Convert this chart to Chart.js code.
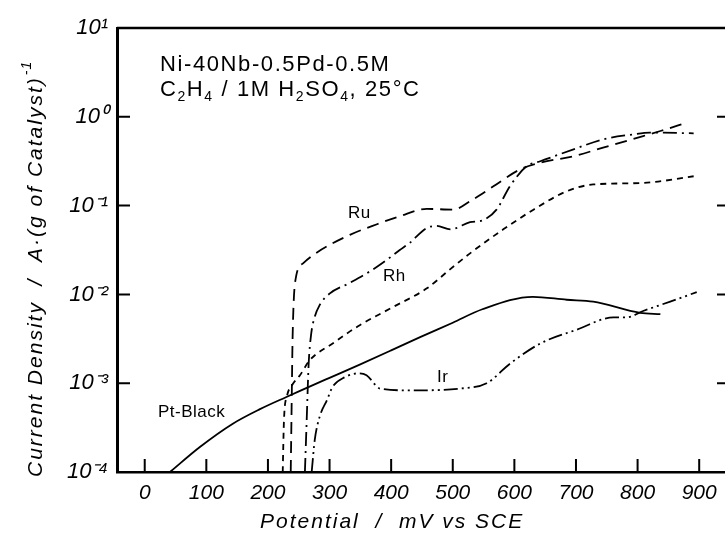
<!DOCTYPE html>
<html>
<head>
<meta charset="utf-8">
<script src="https://cdn.jsdelivr.net/npm/chart.js@4"></script>
<style>
  html, body { margin: 0; padding: 0; background: #fff; overflow: hidden; }
  #wrap { width: 740px; height: 533px; }
</style>
</head>
<body>
<div id="wrap"><canvas id="polar-graph" width="740" height="533"></canvas></div>
<script>
// potential (mV vs SCE) and current density (A/g)
const ptBlackX = [41, 89, 143, 187, 230, 252, 300, 349, 400, 447, 500, 548, 630, 685, 728, 804, 837];
const ptBlackY = [1.0e-4, 1.9e-4, 3.5e-4, 5.1e-4, 7.0e-4, 8.2e-4, 1.15e-3, 1.62e-3, 2.34e-3, 3.3e-3, 4.8e-3, 6.8e-3, 9.4e-3, 8.7e-3, 8.3e-3, 6.2e-3, 6.0e-3];

const ruX = [237, 238, 239, 240, 244, 257, 279, 333, 377, 414, 458, 501, 528, 566, 609, 642, 696, 744, 809, 837, 880];
const ruY = [1.0e-4, 3.2e-4, 1.07e-3, 3.2e-3, 1.35e-2, 2.24e-2, 2.95e-2, 4.68e-2, 6.17e-2, 7.59e-2, 9.18e-2, 9.02e-2, 0.112, 0.165, 0.255, 0.304, 0.36, 0.449, 0.607, 0.692, 0.859];

const rhX = [260, 263, 266, 270, 276, 284, 300, 333, 370, 393, 414, 430, 458, 474, 496, 528, 550, 571, 593, 620, 642, 696, 744, 793, 820, 891];
const rhY = [1.0e-4, 4.0e-4, 1.6e-3, 3.5e-3, 5.6e-3, 7.6e-3, 1.02e-2, 1.35e-2, 1.9e-2, 2.45e-2, 3.16e-2, 3.8e-2, 5.6e-2, 5.9e-2, 5.4e-2, 6.5e-2, 6.9e-2, 9.0e-2, 0.166, 0.278, 0.316, 0.43, 0.557, 0.634, 0.664, 0.652];

// short-dash curve, no label in the figure
const shortDashX = [224, 226, 231, 239, 252, 268, 305, 349, 403, 458, 495, 528, 582, 631, 685, 728, 809, 891];
const shortDashY = [1.0e-4, 3.8e-4, 7.2e-4, 9.5e-4, 1.23e-3, 1.82e-3, 2.8e-3, 4.5e-3, 7.2e-3, 1.17e-2, 1.9e-2, 2.9e-2, 5.4e-2, 9.0e-2, 0.145, 0.173, 0.18, 0.214];

const irX = [271, 276, 284, 296, 305, 325, 346, 360, 382, 430, 512, 555, 593, 642, 701, 761, 782, 809, 853, 896];
const irY = [1.0e-4, 2.3e-4, 4.2e-4, 6.5e-4, 9.1e-4, 1.17e-3, 1.29e-3, 1.23e-3, 8.7e-4, 8.3e-4, 8.7e-4, 1.0e-3, 1.66e-3, 2.8e-3, 4.0e-3, 5.5e-3, 5.5e-3, 6.5e-3, 8.3e-3, 1.06e-2];

const xTickValues = [0, 100, 200, 300, 400, 500, 600, 700, 800, 900];
const xTickLabels = ['0', '100', '200', '300', '400', '500', '600', '700', '800', '900'];
const yTickValues = [1e-4, 1e-3, 1e-2, 1e-1, 1e0, 1e1];
const yTickLabels = ['10⁻⁴', '10⁻³', '10⁻²', '10⁻¹', '10⁰', '10¹'];

function pts(xs, ys) {
  return xs.map((x, i) => ({ x: x, y: ys[i] }));
}

function line(label, xs, ys, dash) {
  return {
    label: label,
    data: pts(xs, ys),
    borderColor: '#000',
    borderWidth: 1.8,
    borderDash: dash,
    pointRadius: 0,
    cubicInterpolationMode: 'monotone',
    fill: false,
  };
}

// text in the plot + the frame bits chart.js doesn't do (top line, inward ticks)
const framePlugin = {
  id: 'frame',
  afterDraw(chart) {
    const ctx = chart.ctx;
    const a = chart.chartArea;
    const xs = chart.scales.x;
    const ys = chart.scales.y;
    ctx.save();
    ctx.strokeStyle = '#000';
    ctx.lineWidth = 2.5;
    ctx.beginPath();
    ctx.moveTo(a.left, a.top);
    ctx.lineTo(a.right, a.top);
    ctx.stroke();

    ctx.lineWidth = 2;
    ctx.beginPath();
    xTickValues.forEach(v => {
      const px = xs.getPixelForValue(v);
      ctx.moveTo(px, a.bottom);
      ctx.lineTo(px, a.bottom - 13);
    });
    yTickValues.forEach(v => {
      const py = ys.getPixelForValue(v);
      ctx.moveTo(a.left, py);
      ctx.lineTo(a.left + 13, py);
      ctx.moveTo(a.right, py);
      ctx.lineTo(a.right - 13, py);
    });
    ctx.stroke();

    ctx.fillStyle = '#000';
    ctx.textBaseline = 'alphabetic';
    ctx.textAlign = 'left';

    // header lines
    ctx.font = '22px "Liberation Sans", Arial, sans-serif';
    ctx.letterSpacing = '1.6px';
    ctx.fillText('Ni-40Nb-0.5Pd-0.5M', 160, 71);

    const parts = [['C', 0], ['2', 1], ['H', 0], ['4', 1], [' / 1M H', 0], ['2', 1], ['SO', 0], ['4', 1], [', 25°C', 0]];
    let cx = 160;
    parts.forEach(p => {
      ctx.font = p[1] ? '14px "Liberation Sans", Arial, sans-serif' : '22px "Liberation Sans", Arial, sans-serif';
      ctx.fillText(p[0], cx, p[1] ? 101 : 96);
      cx += ctx.measureText(p[0]).width;
    });

    // curve labels
    ctx.font = '17px "Liberation Sans", Arial, sans-serif';
    ctx.letterSpacing = '0.5px';
    ctx.fillText('Ru', 348, 218);
    ctx.fillText('Rh', 383, 281);
    ctx.fillText('Ir', 437, 382);
    ctx.fillText('Pt-Black', 158, 417);

    // axis titles
    ctx.font = 'italic 21px "Liberation Sans", Arial, sans-serif';
    ctx.letterSpacing = '2px';
    ctx.fillText('Potential  /  mV vs SCE', 260, 528);

    ctx.translate(42, 477);
    ctx.rotate(-Math.PI / 2);
    const yTitle = 'Current Density  /  A·(g of Catalyst)';
    ctx.fillText(yTitle, 0, 0);
    const w = ctx.measureText(yTitle).width;
    ctx.font = 'italic 14px "Liberation Sans", Arial, sans-serif';
    ctx.letterSpacing = '1px';
    ctx.fillText('-1', w + 1, -11);
    ctx.restore();
  }
};

const ctx = document.getElementById('polar-graph');
const myChart = new Chart(ctx, {
  type: 'line',
  data: {
    datasets: [
      line('Pt-Black', ptBlackX, ptBlackY, []),
      line('Ru', ruX, ruY, [12, 7]),
      line('(unlabelled)', shortDashX, shortDashY, [6, 5]),
      line('Rh', rhX, rhY, [14, 5, 2, 5]),
      line('Ir', irX, irY, [14, 4, 2, 4, 2, 4]),
    ],
  },
  options: {
    responsive: false,
    animation: false,
    devicePixelRatio: 1,
    layout: {
      padding: { top: 28, right: 10, left: 0, bottom: 0 },
    },
    scales: {
      x: {
        type: 'linear',
        min: -45,
        max: 950,
        afterFit: function(scale) { scale.height = 61; },
        afterBuildTicks: function(axis) {
          axis.ticks = xTickValues.map(v => ({ value: v }));
        },
        grid: {
          drawOnChartArea: false,
          drawTicks: false,
          color: 'rgba(0,0,0,0)',
        },
        border: { color: '#000', width: 2.5 },
        ticks: {
          padding: 9,
          color: '#000',
          maxRotation: 0,
          font: { family: '"Liberation Sans", Arial, sans-serif', size: 21, style: 'italic' },
          callback: function(value) {
            return xTickLabels[xTickValues.indexOf(value)];
          }
        },
      },
      y: {
        type: 'logarithmic',
        min: 1e-4,
        max: 1e1,
        afterFit: function(scale) { scale.width = 117; },
        afterBuildTicks: function(axis) {
          axis.ticks = yTickValues.map(v => ({ value: v }));
        },
        grid: {
          drawOnChartArea: false,
          drawTicks: false,
          color: 'rgba(0,0,0,0)',
        },
        border: { color: '#000', width: 3 },
        ticks: {
          padding: 9,
          color: '#000',
          font: { family: '"Liberation Sans", Arial, sans-serif', size: 22, style: 'italic' },
          callback: function(value) {
            const i = yTickValues.findIndex(v => Math.abs(Math.log10(v) - Math.log10(value)) < 1e-6);
            return i >= 0 ? yTickLabels[i] : '';
          }
        },
      },
    },
    plugins: {
      legend: { display: false },
      tooltip: { enabled: false },
    },
  },
  plugins: [framePlugin],
});
</script>
</body>
</html>
